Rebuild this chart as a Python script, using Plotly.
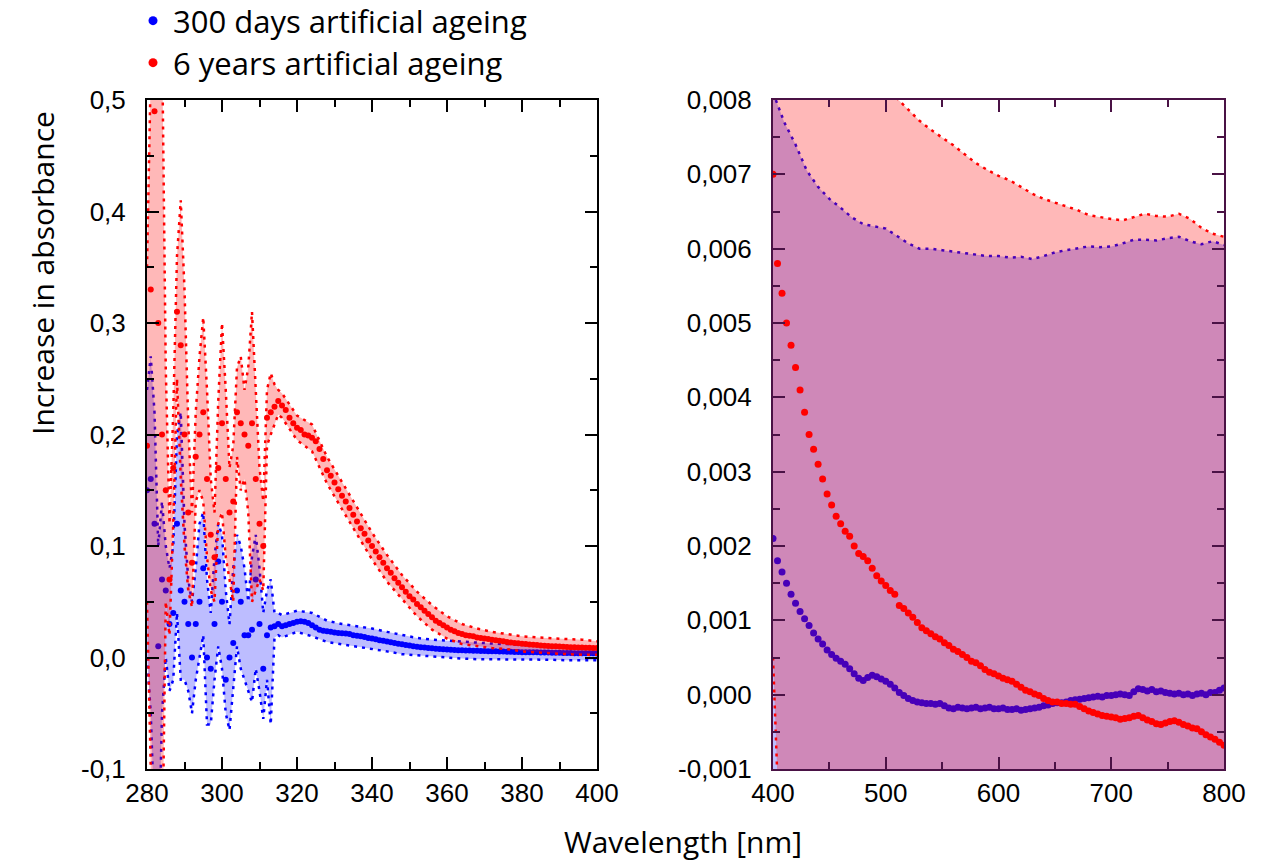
import plotly.graph_objects as go

# ---------------- Left panel (280-400 nm) ----------------
wl_left_noisy = list(range(280, 317))          # 1 nm steps
wl_left_smooth = list(range(317, 401))         # 1 nm steps
wl_left_band_smooth = list(range(320, 401, 4))  # band edges, 4 nm steps

red_mean_noisy = [0.19, 0.33, 0.49, 0.30, 0.20, 0.15, 0.07, 0.17, 0.31, 0.28,
                  0.20, 0.13, 0.085, 0.18, 0.20, 0.22, 0.16, 0.11, 0.09, 0.17,
                  0.21, 0.16, 0.13, 0.14, 0.22, 0.21, 0.20, 0.19, 0.21, 0.16,
                  0.12, 0.10, 0.215, 0.22, 0.225, 0.23, 0.226]
red_up_noisy = [0.35, 0.62, 0.70, 0.65, 0.56, 0.26, 0.12, 0.22, 0.36, 0.41,
                0.33, 0.21, 0.13, 0.22, 0.27, 0.305, 0.24, 0.16, 0.13, 0.23,
                0.30, 0.24, 0.17, 0.19, 0.26, 0.27, 0.24, 0.26, 0.31, 0.24,
                0.17, 0.14, 0.24, 0.255, 0.245, 0.24, 0.237]
red_lo_noisy = [0.05, -0.15, -0.25, -0.30, -0.20, 0.05, 0.02, 0.12, 0.25, 0.16,
                0.10, 0.06, 0.045, 0.14, 0.15, 0.14, 0.09, 0.06, 0.05, 0.12,
                0.13, 0.09, 0.07, 0.05, 0.18, 0.15, 0.16, 0.13, 0.05, 0.06,
                0.07, 0.06, 0.19, 0.20, 0.21, 0.218, 0.215]

blue_mean_noisy = [0.15, 0.16, 0.12, 0.01, 0.07, 0.06, 0.03, 0.04, 0.12, 0.06,
                   0.05, 0.03, 0.00, 0.03, 0.05, 0.08, 0.00, -0.01, 0.03, 0.086,
                   0.05, -0.02, 0.00, 0.013, 0.06, 0.05, 0.02, 0.02, 0.025, 0.07,
                   0.03, -0.01, 0.02, 0.027, 0.028, 0.03, 0.028]
blue_up_noisy = [0.24, 0.27, 0.22, 0.10, 0.14, 0.10, 0.08, 0.10, 0.20, 0.22,
                 0.12, 0.07, 0.05, 0.08, 0.12, 0.13, 0.07, 0.04, 0.09, 0.12,
                 0.11, 0.06, 0.03, 0.08, 0.11, 0.10, 0.08, 0.05, 0.09, 0.11,
                 0.08, 0.04, 0.06, 0.07, 0.04, 0.04, 0.038]
blue_lo_noisy = [0.00, -0.05, -0.15, -0.20, -0.05, 0.00, -0.03, -0.02, 0.04, -0.02,
                 -0.02, -0.03, -0.05, -0.02, 0.00, 0.02, -0.06, -0.06, -0.02, 0.01,
                 -0.01, -0.05, -0.065, -0.03, 0.01, -0.01, -0.02, -0.03, -0.04, -0.01,
                 -0.03, -0.055, -0.02, -0.06, 0.018, 0.02, 0.018]

red_mean_smooth = [0.222, 0.215, 0.210, 0.206, 0.204, 0.200, 0.199, 0.197, 0.194, 0.187,
                   0.178, 0.168, 0.163, 0.157, 0.151, 0.145, 0.140, 0.134, 0.128, 0.122,
                   0.116, 0.111, 0.105, 0.100, 0.095, 0.090, 0.085, 0.080, 0.076, 0.071,
                   0.067, 0.063, 0.059, 0.055, 0.052, 0.048, 0.045, 0.042, 0.039, 0.036,
                   0.033, 0.031, 0.029, 0.027, 0.025, 0.0235, 0.022, 0.021, 0.020, 0.0195,
                   0.019, 0.018, 0.0175, 0.017, 0.0165, 0.016, 0.0155, 0.015, 0.0145, 0.014,
                   0.0135, 0.013, 0.0127, 0.0123, 0.012, 0.0117, 0.0114, 0.0111, 0.0108, 0.0106,
                   0.0104, 0.0102, 0.010, 0.0098, 0.0096, 0.0094, 0.0092, 0.0091, 0.0090, 0.0089,
                   0.0088, 0.0087, 0.0086, 0.0085]
blue_mean_smooth = [0.029, 0.030, 0.031, 0.032, 0.0325, 0.032, 0.031, 0.029, 0.027, 0.025,
                    0.024, 0.0235, 0.023, 0.0225, 0.022, 0.0218, 0.0215, 0.021, 0.020, 0.0195,
                    0.019, 0.0183, 0.0175, 0.017, 0.0163, 0.0155, 0.015, 0.0143, 0.0137, 0.013,
                    0.0124, 0.0118, 0.0112, 0.0107, 0.0102, 0.0097, 0.0093, 0.0089, 0.0086, 0.0082,
                    0.0079, 0.0076, 0.0074, 0.0072, 0.0070, 0.0068, 0.0066, 0.0065, 0.0063, 0.0062,
                    0.0061, 0.0060, 0.0059, 0.0058, 0.0057, 0.0056, 0.0055, 0.0054, 0.0053, 0.0052,
                    0.0051, 0.0050, 0.0049, 0.0048, 0.0048, 0.0047, 0.0046, 0.0046, 0.0045, 0.0045,
                    0.0044, 0.0043, 0.0043, 0.0042, 0.0041, 0.0041, 0.0040, 0.0039, 0.0039, 0.0038,
                    0.0038, 0.0037, 0.0037, 0.0036]

red_up_smooth = [0.217, 0.209, 0.180, 0.157, 0.134, 0.112, 0.092, 0.074, 0.059, 0.047,
                 0.037, 0.030, 0.026, 0.023, 0.021, 0.019, 0.018, 0.017, 0.0165, 0.016, 0.0145]
red_lo_smooth = [0.195, 0.185, 0.156, 0.133, 0.110, 0.088, 0.068, 0.052, 0.037, 0.025,
                 0.017, 0.012, 0.010, 0.0085, 0.0075, 0.0055, 0.0045, 0.0035, 0.003, 0.0025, 0.0025]
blue_up_smooth = [0.042, 0.040, 0.033, 0.030, 0.028, 0.026, 0.023, 0.020, 0.0175, 0.016,
                  0.015, 0.014, 0.013, 0.0125, 0.012, 0.0115, 0.011, 0.0105, 0.010, 0.0095, 0.0085]
blue_lo_smooth = [0.023, 0.019, 0.014, 0.012, 0.010, 0.008, 0.0055, 0.003, 0.002, 0.0005,
                  -0.0005, -0.001, -0.0015, -0.0015, -0.002, -0.002, -0.002, -0.002, -0.0025, -0.0025, -0.0025]

# ---------------- Right panel (400-800 nm) ----------------
wl_right = list(range(400, 801, 4))
wl_right_band = list(range(400, 801, 10))

red_mean_right = [0.0070, 0.0058, 0.0054, 0.0050, 0.0047, 0.0044, 0.0041, 0.0038, 0.0035, 0.0033,
                  0.0031, 0.0029, 0.0027, 0.00255, 0.0024, 0.0023, 0.0022, 0.00213, 0.0020, 0.0019,
                  0.00186, 0.0018, 0.0017, 0.0016, 0.00153, 0.00147, 0.0014, 0.00135, 0.0012, 0.00116,
                  0.0011, 0.00104, 0.00097, 0.0009, 0.00086, 0.00082, 0.00078, 0.00075, 0.0007, 0.00066,
                  0.00061, 0.00058, 0.00054, 0.0005, 0.00045, 0.00043, 0.00039, 0.00034, 0.0003, 0.00028,
                  0.00025, 0.00022, 0.0002, 0.00018, 0.00014, 0.0001, 0.00006, 0.00004, 0.00001, -0.00001,
                  -0.00005, -0.00008, -0.0001, -0.0001, -0.00012, -0.00012, -0.00013, -0.00013, -0.00016, -0.00019,
                  -0.00022, -0.00024, -0.00026, -0.00028, -0.00029, -0.0003, -0.00031, -0.00033, -0.00032, -0.00031,
                  -0.00029, -0.00028, -0.00031, -0.00034, -0.00036, -0.00039, -0.0004, -0.00038, -0.00036, -0.00035,
                  -0.00037, -0.0004, -0.00042, -0.00045, -0.00046, -0.0005, -0.00054, -0.00057, -0.0006, -0.00064,
                  -0.00068]
blue_mean_right = [0.0021, 0.0018, 0.00165, 0.0015, 0.00135, 0.00123, 0.00112, 0.00102, 0.00093, 0.00083,
                   0.00075, 0.00068, 0.0006, 0.00054, 0.00049, 0.00045, 0.00041, 0.00035, 0.00028, 0.00022,
                   0.00019, 0.00023, 0.00026, 0.00024, 0.00021, 0.00018, 0.00014, 0.00009, 0.00003, -0.00001,
                   -0.00005, -0.00008, -0.0001, -0.00011, -0.00012, -0.00012, -0.00013, -0.00012, -0.00015, -0.00018,
                   -0.00019, -0.00017, -0.00018, -0.00019, -0.00018, -0.00017, -0.00019, -0.00018, -0.00017, -0.00019,
                   -0.00019, -0.00018, -0.0002, -0.0002, -0.00019, -0.00021, -0.0002, -0.00019, -0.00018, -0.00017,
                   -0.00015, -0.00014, -0.00012, -0.00011, -0.00011, -0.0001, -0.00008, -0.00007, -0.00006, -0.00005,
                   -0.00004, -0.00003, -0.00002, -0.00003, -0.00001, -0.00001, 0.0, 0.00001, 0.0, -0.00001,
                   0.00004, 0.00008, 0.00007, 0.00005, 0.00007, 0.00004, 0.00005, 0.00003, 0.00002, 0.00001,
                   0.00002, 0.0, 0.00001, -0.00001, 0.00001, 0.00002, 0.0, 0.00003, 0.00003, 0.00006,
                   0.00009]

blue_up_right = [0.0081, 0.0077, 0.0074, 0.00705, 0.00683, 0.00667, 0.00655, 0.00642, 0.00633, 0.0063,
                 0.00627, 0.00617, 0.00607, 0.006, 0.006, 0.00598, 0.00596, 0.00595, 0.00593, 0.0059,
                 0.0059, 0.00588, 0.00589, 0.00586, 0.0059, 0.00595, 0.00598, 0.006, 0.00603, 0.00602,
                 0.00603, 0.00607, 0.00612, 0.00612, 0.00611, 0.00614, 0.00616, 0.0061, 0.00606, 0.0061,
                 0.00605]
red_up_right = [0.0125, 0.0118, 0.0111, 0.0105, 0.0100, 0.0095, 0.0091, 0.0088, 0.0085, 0.0083,
                0.00815, 0.00802, 0.00787, 0.00772, 0.0076, 0.0075, 0.00739, 0.00727, 0.00715, 0.00706,
                0.00698, 0.00692, 0.00683, 0.00674, 0.00667, 0.00662, 0.00658, 0.00652, 0.00645, 0.00642,
                0.0064, 0.00638, 0.00642, 0.00647, 0.00644, 0.00643, 0.00647, 0.0064, 0.00628, 0.0062,
                0.00616]
red_lo_right_wl = [400, 401, 402, 403, 404, 406, 410, 450, 500, 600, 700, 800]
red_lo_right = [0.0005, 0.0001, -0.0003, -0.0007, -0.0012, -0.002, -0.0025, -0.004, -0.005, -0.0065, -0.007, -0.0075]
blue_lo_right_wl = [400, 402, 410, 450, 500, 600, 700, 800]
blue_lo_right = [-0.0025, -0.004, -0.005, -0.005, -0.0055, -0.0058, -0.0059, -0.0059]

# ---------------- Tick labels ----------------
x_ticks_left = [280, 300, 320, 340, 360, 380, 400]
y_ticks_left = [-0.1, 0.0, 0.1, 0.2, 0.3, 0.4, 0.5]
y_ticktext_left = ["-0,1", "0,0", "0,1", "0,2", "0,3", "0,4", "0,5"]
x_ticks_right = [400, 500, 600, 700, 800]
y_ticks_right = [-0.001, 0.0, 0.001, 0.002, 0.003, 0.004, 0.005, 0.006, 0.007, 0.008]
y_ticktext_right = ["-0,001", "0,000", "0,001", "0,002", "0,003", "0,004", "0,005", "0,006", "0,007", "0,008"]

legend_labels = ["300 days artificial ageing", "6 years artificial ageing"]

BLUE = "#0000ff"
RED = "#ff0000"
BLUE_FILL = "rgba(0,0,255,0.26)"
RED_FILL = "rgba(255,0,0,0.28)"
DOT = "3px,5px"
FRAME_R = "#4a1245"

fig = go.Figure()


def band_line(x, y, color, xa, ya, fill=None, fillcolor=None):
    return go.Scatter(x=x, y=y, mode="lines", xaxis=xa, yaxis=ya,
                      line=dict(color=color, width=2.5, dash=DOT),
                      fill=fill, fillcolor=fillcolor, showlegend=False, hoverinfo="skip")


def mean_pts(x, y, color, xa, ya, size):
    return go.Scatter(x=x, y=y, mode="markers", xaxis=xa, yaxis=ya,
                      marker=dict(color=color, size=size, line=dict(width=0)),
                      showlegend=False, hoverinfo="skip")


# left panel
band_x_left = wl_left_noisy + wl_left_band_smooth
mean_x_left = wl_left_noisy + wl_left_smooth
fig.add_trace(band_line(band_x_left, blue_lo_noisy + blue_lo_smooth, BLUE, "x", "y"))
fig.add_trace(band_line(band_x_left, blue_up_noisy + blue_up_smooth, BLUE, "x", "y", "tonexty", BLUE_FILL))
fig.add_trace(mean_pts(mean_x_left, blue_mean_noisy + blue_mean_smooth, BLUE, "x", "y", 6))
fig.add_trace(band_line(band_x_left, red_lo_noisy + red_lo_smooth, RED, "x", "y"))
fig.add_trace(band_line(band_x_left, red_up_noisy + red_up_smooth, RED, "x", "y", "tonexty", RED_FILL))
fig.add_trace(mean_pts(mean_x_left, red_mean_noisy + red_mean_smooth, RED, "x", "y", 6))

# right panel
fig.add_trace(band_line(blue_lo_right_wl, blue_lo_right, BLUE, "x2", "y2"))
fig.add_trace(band_line(wl_right_band, blue_up_right, BLUE, "x2", "y2", "tonexty", BLUE_FILL))
fig.add_trace(mean_pts(wl_right, blue_mean_right, BLUE, "x2", "y2", 7))
fig.add_trace(band_line(red_lo_right_wl, red_lo_right, RED, "x2", "y2"))
fig.add_trace(band_line(wl_right_band, red_up_right, RED, "x2", "y2", "tonexty", RED_FILL))
fig.add_trace(mean_pts(wl_right, red_mean_right, RED, "x2", "y2", 7))

# legend entries (one legend box per entry, to place them exactly)
for lab, col, lg in zip(legend_labels, [BLUE, RED], ["legend", "legend2"]):
    fig.add_trace(go.Scatter(x=[None], y=[None], mode="markers", name=lab,
                             marker=dict(color=col, size=9), xaxis="x", yaxis="y",
                             showlegend=True, legend=lg))

TICKFONT = dict(family="Liberation Sans, Arial, sans-serif", size=26, color="black")
TITLEFONT = dict(family="Open Sans, sans-serif", size=30, color="black")
LEGFONT = dict(family="Open Sans, sans-serif", size=31, color="black")


def axis_common(color):
    return dict(ticks="inside", ticklen=12, tickwidth=2, tickcolor=color,
                showline=True, linewidth=2, linecolor=color, mirror="ticks",
                showgrid=False, zeroline=False, tickfont=TICKFONT, tickmode="array",
                automargin=False)


ydom = [1 - 769 / 863, 1 - 100 / 863]

leg_common = dict(xanchor="left", yanchor="middle", font=LEGFONT,
                  bgcolor="rgba(0,0,0,0)", borderwidth=0)

fig.update_layout(
    width=1261, height=863,
    margin=dict(l=0, r=0, t=0, b=0, autoexpand=False),
    paper_bgcolor="white", plot_bgcolor="white",
    showlegend=True,
    legend=dict(x=133 / 1261, y=1 - 21 / 863, **leg_common),
    legend2=dict(x=133 / 1261, y=1 - 63 / 863, **leg_common),
    xaxis=dict(domain=[147 / 1261, 597 / 1261], range=[280, 400], anchor="y",
               tickvals=x_ticks_left, ticktext=[str(v) for v in x_ticks_left],
               minor=dict(tick0=280, dtick=10, ticks="inside", ticklen=7, tickwidth=2,
                          tickcolor="black", showgrid=False),
               ticklabelstandoff=0, **axis_common("black")),
    yaxis=dict(domain=ydom, range=[-0.1, 0.5], anchor="x",
               tickvals=y_ticks_left, ticktext=y_ticktext_left,
               minor=dict(tick0=-0.1, dtick=0.05, ticks="inside", ticklen=7, tickwidth=2,
                          tickcolor="black", showgrid=False),
               ticklabelstandoff=14, **axis_common("black")),
    xaxis2=dict(domain=[773 / 1261, 1224 / 1261], range=[400, 800], anchor="y2",
                tickvals=x_ticks_right, ticktext=[str(v) for v in x_ticks_right],
                minor=dict(tick0=400, dtick=50, ticks="inside", ticklen=7, tickwidth=2,
                           tickcolor=FRAME_R, showgrid=False),
                ticklabelstandoff=0, **axis_common(FRAME_R)),
    yaxis2=dict(domain=ydom, range=[-0.001, 0.008], anchor="x2",
                tickvals=y_ticks_right, ticktext=y_ticktext_right,
                minor=dict(tick0=-0.001, dtick=0.0005, ticks="inside", ticklen=7, tickwidth=2,
                           tickcolor=FRAME_R, showgrid=False),
                ticklabelstandoff=14, **axis_common(FRAME_R)),
    annotations=[
        dict(text="Increase in absorbance", x=42 / 1261, y=1 - 273 / 863, xref="paper", yref="paper",
             showarrow=False, textangle=-90, font=TITLEFONT, xanchor="center", yanchor="middle"),
        dict(text="Wavelength [nm]", x=683 / 1261, y=1 - 841 / 863, xref="paper", yref="paper",
             showarrow=False, font=TITLEFONT, xanchor="center", yanchor="middle"),
    ],
)

fig.write_html("out.html")
